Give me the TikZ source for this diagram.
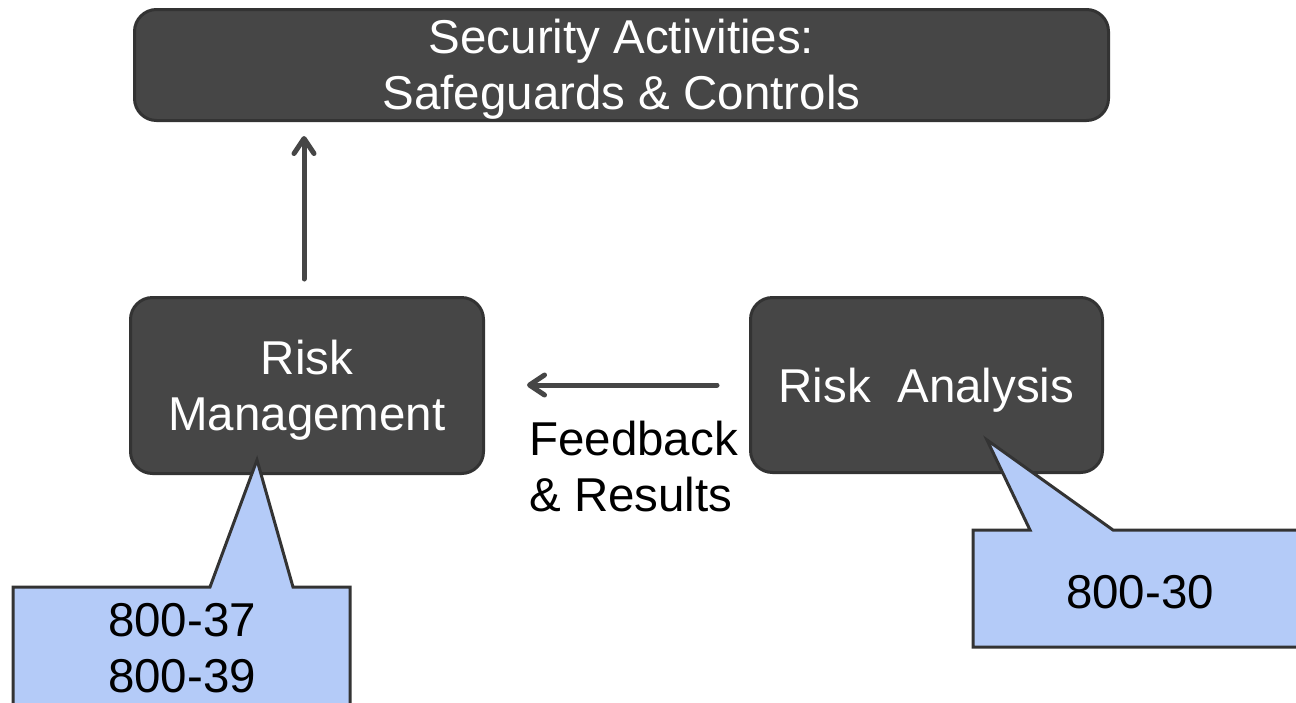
\documentclass[tikz,border=0pt]{standalone}
\usepackage{fontspec}
\setmainfont{Liberation Sans}
\usetikzlibrary{arrows.meta}
\definecolor{boxfill}{HTML}{464646}
\definecolor{boxdraw}{HTML}{333333}
\definecolor{callfill}{HTML}{B4CBF8}
\tikzset{
  txt/.style={font=\fontsize{47.5}{56}\selectfont, align=center, inner sep=0pt},
  darkbox/.style={rectangle, rounded corners=22pt, fill=boxfill, draw=boxdraw, line width=3pt},
  wtxt/.style={txt, text=white},
  callout/.style={fill=callfill, draw=boxdraw, line width=3pt, line join=miter},
  arr/.style={draw=boxfill, line width=5pt, line cap=round, -{Straight Barb[length=15pt,width=20pt,line cap=round,line join=round]}}
}
\begin{document}
\begin{tikzpicture}[x=1pt,y=-1pt]
\useasboundingbox (0,0) rectangle (1296,702);
\clip (0,0) rectangle (1296,702);
\fill[white] (0,0) rectangle (1296,702);
\node[darkbox, minimum width=974pt, minimum height=111pt] (top) at (621.5,65) {};
\node[wtxt] (toptext) at ([yshift=-4pt]top.center) {Security Activities:\\Safeguards \& Controls};
\node[darkbox, minimum width=353pt, minimum height=176pt] (rm) at (307,385.5) {};
\node[wtxt] (rmtext) at ([yshift=-5pt]rm.center) {Risk\\Management};
\node[darkbox, minimum width=352pt, minimum height=175pt] (ra) at (926.5,385) {};
\node[wtxt] (ratext) at ([yshift=-5pt]ra.center) {Risk\ \ Analysis};
\node[txt, align=left, anchor=west] (fb) at (529,467) {Feedback\\\& Results};
\draw[arr, shorten <=17pt, shorten >=14pt] ([xshift=-3pt]rm.north) -- ([xshift=-3pt]rm.north |- top.south);
\draw[arr, shorten <=32pt, shorten >=42pt] (ra.west) -- (rm.east |- ra.west);
\coordinate (c1tip) at (257,460);
\coordinate (c2tip) at (987,440);
\draw[callout] (13,587) -- (210,587) -- (c1tip) -- (293,587) -- (350,587) -- (350,720) -- (13,720) -- cycle;
\draw[callout] (973,530) -- (1030,530) -- (c2tip) -- (1113,530) -- (1310,530) -- (1310,647) -- (973,647) -- cycle;
\node[txt] (c1) at (182,648) {800-37\\800-39};
\node[txt] (c2) at (1140,592) {800-30};
\end{tikzpicture}
\end{document}
